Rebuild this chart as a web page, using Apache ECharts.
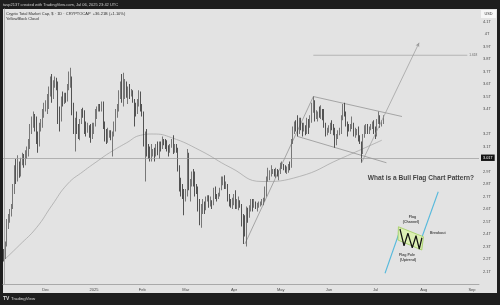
<!DOCTYPE html>
<html>
<head>
<meta charset="utf-8">
<title>Crypto Total Market Cap</title>
<script src="https://cdn.jsdelivr.net/npm/echarts@6/dist/echarts.min.js"></script>
<style>
  html, body { margin: 0; padding: 0; background: #1e1e1e; }
  #chart { width: 500px; height: 305px; }
</style>
</head>
<body>
<div id="chart"></div>
<script>
// Daily candles of CRYPTOCAP:TOTAL in trillions USD: [open, close, low, high]
const candlesNov = [
  [2.26,2.22,2.18,2.28],[2.22,2.32,2.20,2.34],[2.32,2.48,2.30,2.52],[2.48,2.52,2.44,2.56],
  [2.52,2.56,2.49,2.60],[2.56,2.62,2.54,2.64],[2.62,2.76,2.60,2.80],[2.76,2.92,2.72,2.95],
  [2.92,2.88,2.80,3.00],[2.88,2.94,2.82,3.03],[2.94,2.88,2.85,2.98],[2.88,2.98,2.86,3.01],
  [2.98,3.00,2.95,3.05],[3.00,2.98,2.93,3.04],[2.98,3.03,2.95,3.07],[3.03,3.05,3.00,3.10],
  [3.05,3.12,3.02,3.16],[3.12,3.24,3.08,3.28],[3.24,3.28,3.20,3.34],[3.28,3.32,3.25,3.38],
  [3.32,3.30,3.22,3.36],[3.30,3.18,3.12,3.34],[3.18,3.12,3.05,3.22],[3.12,3.27,3.10,3.29],
  [3.27,3.28,3.22,3.32],[3.28,3.36,3.25,3.40],[3.36,3.42,3.33,3.45]
];
const candlesDec = [
  [3.42,3.44,3.38,3.47],[3.44,3.48,3.36,3.52],[3.48,3.55,3.40,3.58],[3.55,3.62,3.50,3.66],
  [3.62,3.52,3.45,3.68],[3.52,3.60,3.48,3.63],[3.60,3.62,3.57,3.66],[3.62,3.60,3.55,3.65],
  [3.60,3.36,3.28,3.62],[3.36,3.33,3.22,3.42],[3.33,3.48,3.30,3.50],[3.48,3.46,3.42,3.54],
  [3.46,3.50,3.44,3.53],[3.50,3.48,3.45,3.53],[3.48,3.58,3.46,3.60],[3.58,3.62,3.55,3.70],
  [3.62,3.64,3.57,3.73],[3.64,3.38,3.35,3.66],[3.38,3.26,3.20,3.45],[3.26,3.30,3.06,3.33],
  [3.30,3.24,3.20,3.38],[3.24,3.22,3.16,3.28],[3.22,3.30,3.15,3.32],[3.30,3.38,3.28,3.40],
  [3.38,3.37,3.33,3.41],[3.37,3.25,3.20,3.39],[3.25,3.22,3.18,3.30],[3.22,3.26,3.21,3.29],
  [3.26,3.20,3.17,3.27],[3.20,3.18,3.13,3.28],[3.18,3.22,3.16,3.29]
];
const candlesJan = [
  [3.22,3.27,3.20,3.29],[3.27,3.35,3.26,3.40],[3.35,3.40,3.32,3.42],[3.40,3.42,3.38,3.44],
  [3.42,3.41,3.38,3.44],[3.41,3.44,3.38,3.46],[3.44,3.28,3.24,3.46],[3.28,3.22,3.14,3.30],
  [3.22,3.16,3.12,3.24],[3.16,3.20,3.13,3.25],[3.20,3.21,3.17,3.23],[3.21,3.19,3.15,3.23],
  [3.19,3.20,3.02,3.22],[3.20,3.25,3.18,3.30],[3.25,3.38,3.22,3.40],[3.38,3.40,3.33,3.44],
  [3.40,3.52,3.38,3.55],[3.52,3.58,3.48,3.62],[3.58,3.55,3.45,3.68],[3.55,3.56,3.42,3.69],
  [3.56,3.60,3.48,3.64],[3.60,3.52,3.49,3.62],[3.52,3.54,3.44,3.58],[3.54,3.52,3.48,3.60],
  [3.52,3.53,3.50,3.56],[3.53,3.47,3.45,3.55],[3.47,3.40,3.26,3.48],[3.40,3.38,3.34,3.45],
  [3.38,3.44,3.36,3.48],[3.44,3.50,3.42,3.55],[3.50,3.42,3.38,3.54]
];
const candlesFeb = [
  [3.42,3.36,3.34,3.44],[3.36,3.15,3.10,3.38],[3.15,3.18,2.82,3.22],[3.18,3.06,3.02,3.24],
  [3.06,3.05,3.00,3.12],[3.05,3.02,2.98,3.10],[3.02,3.04,2.98,3.12],[3.04,3.06,3.02,3.08],
  [3.06,3.05,2.98,3.09],[3.05,3.10,3.02,3.12],[3.10,3.06,3.03,3.14],[3.06,3.12,3.00,3.14],
  [3.12,3.10,3.06,3.14],[3.10,3.14,3.08,3.18],[3.14,3.13,3.11,3.16],[3.13,3.10,3.08,3.16],
  [3.10,3.09,3.06,3.15],[3.09,3.06,3.02,3.11],[3.06,3.10,3.05,3.12],[3.10,3.14,3.09,3.16],
  [3.14,3.06,3.04,3.19],[3.06,3.10,3.05,3.12],[3.10,3.07,3.05,3.12],[3.07,2.92,2.90,3.09],
  [2.92,2.80,2.74,2.95],[2.80,2.76,2.70,2.85],[2.76,2.74,2.68,2.80],[2.74,2.70,2.55,2.76]
];
const candlesMar = [
  [2.70,2.72,2.66,2.76],[2.72,3.02,2.70,3.08],[3.02,2.78,2.75,3.05],[2.78,2.80,2.66,2.84],
  [2.80,2.86,2.78,2.90],[2.86,2.82,2.78,2.92],[2.82,2.78,2.70,2.90],[2.78,2.76,2.72,2.80],
  [2.76,2.60,2.58,2.78],[2.60,2.52,2.47,2.68],[2.52,2.60,2.45,2.64],[2.60,2.63,2.56,2.68],
  [2.63,2.60,2.56,2.66],[2.60,2.68,2.59,2.70],[2.68,2.69,2.66,2.71],[2.69,2.63,2.61,2.71],
  [2.63,2.66,2.62,2.70],[2.66,2.64,2.60,2.67],[2.64,2.74,2.63,2.77],[2.74,2.70,2.68,2.78],
  [2.70,2.69,2.66,2.72],[2.69,2.71,2.68,2.73],[2.71,2.76,2.70,2.77],[2.76,2.82,2.75,2.86],
  [2.82,2.83,2.79,2.86],[2.83,2.78,2.76,2.87],[2.78,2.79,2.76,2.82],[2.79,2.70,2.66,2.80],
  [2.70,2.64,2.62,2.72],[2.64,2.63,2.61,2.68],[2.63,2.65,2.60,2.69]
];
const candlesApr = [
  [2.65,2.70,2.63,2.72],[2.70,2.63,2.60,2.75],[2.63,2.64,2.60,2.68],[2.64,2.65,2.59,2.70],
  [2.65,2.63,2.61,2.67],[2.63,2.48,2.46,2.64],[2.48,2.47,2.32,2.56],[2.47,2.40,2.38,2.55],
  [2.40,2.60,2.30,2.62],[2.60,2.54,2.49,2.61],[2.54,2.60,2.53,2.63],[2.60,2.66,2.58,2.68],
  [2.66,2.62,2.58,2.68],[2.62,2.63,2.61,2.68],[2.63,2.61,2.60,2.66],[2.61,2.63,2.58,2.65],
  [2.63,2.64,2.61,2.66],[2.64,2.64,2.62,2.66],[2.64,2.66,2.63,2.68],[2.66,2.67,2.63,2.69],
  [2.67,2.72,2.66,2.78],[2.72,2.84,2.70,2.86],[2.84,2.87,2.82,2.93],[2.87,2.89,2.83,2.91],
  [2.89,2.90,2.86,2.95],[2.90,2.90,2.88,2.92],[2.90,2.88,2.86,2.92],[2.88,2.89,2.85,2.93],
  [2.89,2.88,2.86,2.92],[2.88,2.89,2.83,2.91]
];
const candlesMay = [
  [2.89,2.94,2.88,2.97],[2.94,2.95,2.92,2.98],[2.95,2.93,2.91,2.96],[2.93,2.91,2.89,2.95],
  [2.91,2.92,2.88,2.94],[2.92,2.95,2.89,2.96],[2.95,2.94,2.91,2.98],[2.94,3.14,2.93,3.16],
  [3.14,3.22,3.12,3.26],[3.22,3.28,3.20,3.30],[3.28,3.26,3.22,3.31],[3.26,3.22,3.18,3.35],
  [3.22,3.30,3.20,3.33],[3.30,3.26,3.23,3.33],[3.26,3.25,3.18,3.29],[3.25,3.25,3.22,3.29],
  [3.25,3.22,3.19,3.27],[3.22,3.29,3.20,3.33],[3.29,3.28,3.20,3.32],[3.28,3.33,3.25,3.35],
  [3.33,3.40,3.29,3.45],[3.40,3.44,3.37,3.50],[3.44,3.34,3.30,3.47],[3.34,3.35,3.32,3.39],
  [3.35,3.36,3.30,3.38],[3.36,3.35,3.33,3.42],[3.35,3.38,3.32,3.43],[3.38,3.33,3.31,3.40],
  [3.33,3.27,3.25,3.40],[3.27,3.20,3.18,3.29],[3.20,3.23,3.19,3.25]
];
const candlesJun = [
  [3.23,3.24,3.21,3.27],[3.24,3.27,3.20,3.29],[3.27,3.25,3.23,3.31],[3.25,3.21,3.19,3.28],
  [3.21,3.12,3.09,3.25],[3.12,3.17,3.11,3.20],[3.17,3.21,3.16,3.23],[3.21,3.22,3.19,3.25],
  [3.22,3.33,3.20,3.35],[3.33,3.40,3.31,3.44],[3.40,3.36,3.34,3.45],[3.36,3.28,3.26,3.38],
  [3.28,3.26,3.18,3.30],[3.26,3.25,3.22,3.28],[3.25,3.26,3.22,3.28],[3.26,3.27,3.24,3.34],
  [3.27,3.21,3.18,3.29],[3.21,3.22,3.17,3.25],[3.22,3.22,3.19,3.24],[3.22,3.17,3.14,3.26],
  [3.17,3.13,3.12,3.19],[3.13,3.06,2.97,3.14],[3.06,3.18,3.04,3.20],[3.18,3.23,3.17,3.27],
  [3.23,3.25,3.20,3.28],[3.25,3.22,3.20,3.28],[3.22,3.24,3.20,3.26],[3.24,3.26,3.23,3.28],
  [3.26,3.28,3.24,3.30],[3.28,3.24,3.20,3.31]
];
const candlesJul = [
  [3.24,3.20,3.16,3.26],[3.20,3.30,3.18,3.32],[3.30,3.34,3.28,3.38],[3.34,3.28,3.25,3.35],
  [3.28,3.29,3.26,3.31],[3.29,3.33,3.28,3.35]
];

// Slow moving-average line of the cloud indicator
const maDates  = ['2024-11-04','2024-11-14','2024-11-25','2024-12-05','2024-12-15','2024-12-25',
                  '2025-01-04','2025-01-11','2025-01-22','2025-01-31','2025-02-08','2025-02-20',
                  '2025-03-10','2025-03-30','2025-04-19','2025-05-13','2025-06-08','2025-07-05'];
const maValues = [2.19,2.31,2.45,2.63,2.80,2.90,2.99,3.05,3.13,3.19,3.20,3.17,3.07,2.93,2.82,2.86,3.00,3.15];

// Axis ticks
const monthTickDates  = ['2024-12-01','2025-01-01','2025-02-01','2025-03-01','2025-04-01',
                         '2025-05-01','2025-06-01','2025-07-01','2025-08-01','2025-09-01'];
const monthTickLabels = ['Dec','2025','Feb','Mar','Apr','May','Jun','Jul','Aug','Sep'];
const hiddenPriceTicks = [2.0, 3.0, 3.3, 4.2];

// Drawn levels and trend lines [date, value]
const supportLevel = 3.01;
const targetLevel = { from: '2025-05-22', to: '2025-08-29', value: 3.83, label: '1.618' };
const poleLine      = [['2025-04-08', 2.32], ['2025-05-22', 3.50]];
const channelUpper  = [['2025-05-22', 3.50], ['2025-07-18', 3.34]];
const channelLower  = [['2025-05-12', 3.18], ['2025-07-08', 2.97]];
const projectionArrow = [['2025-06-22', 2.97], ['2025-07-29', 3.93]];

// Bull flag sketch, positions in [day number, value]
const sketchPole     = [[245.1, 2.086], [255.2, 2.446]];
const sketchBreakout = [[268.7, 2.370], [279.3, 2.738]];
const sketchChannel  = [[253.7, 2.458], [269.8, 2.378], [268.7, 2.272], [253.4, 2.352]];
const sketchZigzag   = [[254.7, 2.44], [257.3, 2.306], [259.8, 2.406], [262.6, 2.29],
                        [265.0, 2.386], [267.1, 2.28], [268.8, 2.37]];
const sketchLabels = [
  { at: [262.7, 2.534], text: 'Flag', align: 'center' },
  { at: [261.8, 2.498], text: '(Channel)', align: 'center' },
  { at: [274.0, 2.410], text: 'Breakout', align: 'left' },
  { at: [259.2, 2.232], text: 'Flag Pole', align: 'center' },
  { at: [259.9, 2.192], text: '(Uptrend)', align: 'center' }
];
const headline = { at: ['2025-06-26', 2.848], text: 'What is a Bull Flag Chart Pattern?' };

// ---------------------------------------------------------------
const DAY = 86400000;
const t0 = Date.UTC(2024, 10, 4);
const dayCount = 306;             // Nov 4, 2024 through Sep 5, 2025
function day(s) {
  const p = s.split('-').map(Number);
  return Math.round((Date.UTC(p[0], p[1] - 1, p[2]) - t0) / DAY);
}
const categories = [];
for (let i = 0; i < dayCount; i++) categories.push(new Date(t0 + i * DAY).toISOString().slice(0, 10));

const candles = [].concat(candlesNov, candlesDec, candlesJan, candlesFeb, candlesMar,
                          candlesApr, candlesMay, candlesJun, candlesJul);
const lastClose = candles[candles.length - 1][1];
const toPts = arr => arr.map(p => [typeof p[0] === 'string' ? day(p[0]) : p[0], p[1]]);
const fmtT = v => String(+v.toFixed(2)) + 'T';

const FONT = 'Liberation Sans, Arial, sans-serif';
const trendStyle = { color: '#8a8a8a', width: 0.7 };

function segment(points, style) {
  return {
    type: 'line', xAxisIndex: 1, yAxisIndex: 0, data: toPts(points),
    showSymbol: false, symbol: 'none', silent: true, z: 3,
    lineStyle: style
  };
}

const chart = echarts.init(document.getElementById('chart'), null, { renderer: 'canvas' });

const option = {
  animation: false,
  backgroundColor: '#1e1e1e',
  textStyle: { fontFamily: FONT },
  grid: { left: 3, right: 21, top: 9, bottom: 21, containLabel: false, outerBoundsMode: 'none' },
  xAxis: [
    {
      type: 'category', data: categories, boundaryGap: true,
      axisLine: { show: true, lineStyle: { color: '#a9a9a9', width: 1 } },
      axisTick: { show: false }, splitLine: { show: false },
      axisLabel: {
        interval: (i, v) => monthTickDates.indexOf(v) >= 0,
        formatter: v => monthTickLabels[monthTickDates.indexOf(v)] || '',
        fontSize: 4, color: '#4a4a4a', margin: 4, fontFamily: FONT
      }
    },
    { type: 'value', min: -0.5, max: dayCount - 0.5, show: false }
  ],
  yAxis: {
    type: 'value', position: 'right', min: 2.0, max: 4.2, interval: 0.1,
    axisLine: { show: true, lineStyle: { color: '#a9a9a9', width: 1 } },
    axisTick: { show: false }, splitLine: { show: false },
    axisLabel: {
      fontSize: 4, color: '#4a4a4a', align: 'center', margin: 8, fontFamily: FONT,
      formatter: v => hiddenPriceTicks.some(h => Math.abs(h - v) < 1e-6) ? '' : String(+v.toFixed(1)) + 'T'
    }
  },
  series: [
    {
      type: 'candlestick', xAxisIndex: 0, yAxisIndex: 0, data: candles,
      barWidth: '72%', z: 4,
      itemStyle: { color: '#8e8e8e', color0: '#2e2e2e', borderColor: '#5c5c5c', borderColor0: '#2e2e2e', borderWidth: 0.8 },
      markLine: {
        silent: true, symbol: 'none', animation: false,
        data: [
          {
            yAxis: supportLevel,
            lineStyle: { color: '#9a9a9a', width: 0.7, type: 'solid' },
            label: { show: true, position: 'end', distance: 2, formatter: () => fmtT(supportLevel),
                     fontSize: 3.8, color: '#ffffff', backgroundColor: '#141414', padding: [1.2, 2], fontFamily: FONT }
          },
          {
            yAxis: lastClose,
            lineStyle: { opacity: 0 },
            label: { show: true, position: 'end', distance: 2, formatter: () => fmtT(lastClose),
                     fontSize: 3.8, color: '#222', backgroundColor: '#fafafa', borderColor: '#8a8a8a', borderWidth: 0.5,
                     padding: [1.2, 2], fontFamily: FONT }
          }
        ]
      }
    },
    {
      type: 'line', xAxisIndex: 1, yAxisIndex: 0,
      data: maDates.map((d, i) => [day(d), maValues[i]]),
      smooth: 0.5, showSymbol: false, symbol: 'none', silent: true, z: 3,
      lineStyle: { color: '#a2a2a2', width: 0.7 }
    },
    segment(poleLine, trendStyle),
    segment(channelUpper, trendStyle),
    segment(channelLower, trendStyle),
    {
      type: 'line', xAxisIndex: 1, yAxisIndex: 0, data: toPts(projectionArrow),
      showSymbol: false, symbol: 'none', silent: true, lineStyle: { opacity: 0 },
      markLine: {
        silent: true, animation: false, symbol: ['none', 'arrow'], symbolSize: [3, 4],
        lineStyle: { color: '#9a9a9a', width: 0.7, type: 'solid' }, label: { show: false },
        data: [[{ coord: toPts(projectionArrow)[0] }, { coord: toPts(projectionArrow)[1] }]]
      }
    },
    {
      type: 'line', xAxisIndex: 1, yAxisIndex: 0,
      data: [[day(targetLevel.from), targetLevel.value], [day(targetLevel.to), targetLevel.value]],
      showSymbol: false, symbol: 'none', silent: true, lineStyle: { color: '#a0a0a0', width: 0.7 },
      endLabel: { show: true, formatter: targetLevel.label, fontSize: 3.2, color: '#6a6a6a', distance: 2, fontFamily: FONT }
    },
    // bull flag sketch
    {
      type: 'custom', xAxisIndex: 1, yAxisIndex: 0, silent: true, z: 5,
      data: [0],
      renderItem: (params, api) => ({
        type: 'polygon',
        shape: { points: sketchChannel.map(p => api.coord(p)) },
        style: { fill: '#dcefb4', stroke: '#9fce5c', lineWidth: 0.8 }
      })
    },
    segment(sketchPole, { color: '#56b9dc', width: 1.1 }),
    segment(sketchBreakout, { color: '#56b9dc', width: 1.1 }),
    Object.assign(segment(sketchZigzag, { color: '#121212', width: 1.2 }), { z: 6 }),
    {
      type: 'scatter', xAxisIndex: 1, yAxisIndex: 0, symbolSize: 0, silent: true, z: 7,
      data: sketchLabels.map(l => ({
        value: l.at,
        label: { show: true, position: l.align === 'left' ? 'right' : 'inside', distance: 0,
                 formatter: l.text, fontSize: 3.6, fontWeight: 'bold', color: '#1e1e1e', fontFamily: FONT }
      })).concat([{
        value: [day(headline.at[0]), headline.at[1]],
        label: { show: true, position: 'right', distance: 0, formatter: headline.text,
                 fontSize: 6.6, fontWeight: 'bold', color: '#161616', fontFamily: FONT }
      }])
    }
  ],
  graphic: [
    { type: 'rect', z: -100, silent: true, shape: { x: 3, y: 9, width: 494, height: 284 }, style: { fill: '#e3e3e3' } },
    { type: 'text', x: 3, y: 4.5, silent: true,
      style: { text: 'tavp2137 created with TradingView.com, Jul 06, 2025 23:42 UTC', fontSize: 4, fill: '#cfcfcf',
               verticalAlign: 'middle', fontFamily: FONT } },
    { type: 'text', x: 6, y: 13.5, silent: true,
      style: { text: 'Crypto Total Market Cap, $ · 1D · CRYPTOCAP  +36.21B (+1.10%)', fontSize: 4, fill: '#2e2e2e',
               verticalAlign: 'middle', fontFamily: FONT } },
    { type: 'text', x: 6, y: 19, silent: true,
      style: { text: 'YellowBlock Cloud', fontSize: 4, fill: '#2e2e2e', verticalAlign: 'middle', fontFamily: FONT } },
    { type: 'rect', silent: true, shape: { x: 481, y: 10, width: 15, height: 8 }, style: { fill: '#f6f6f6' } },
    { type: 'text', x: 488.5, y: 14, silent: true,
      style: { text: 'USD', fontSize: 3.8, fill: '#333', align: 'center', verticalAlign: 'middle', fontFamily: FONT } },
    { type: 'text', x: 3, y: 299, silent: true,
      style: { text: 'TV', fontSize: 5, fontWeight: 'bold', fill: '#d8d8d8', verticalAlign: 'middle', fontFamily: FONT } },
    { type: 'text', x: 11, y: 299, silent: true,
      style: { text: 'TradingView', fontSize: 4.4, fill: '#d8d8d8', verticalAlign: 'middle', fontFamily: FONT } }
  ]
};

chart.setOption(option);
</script>
</body>
</html>
